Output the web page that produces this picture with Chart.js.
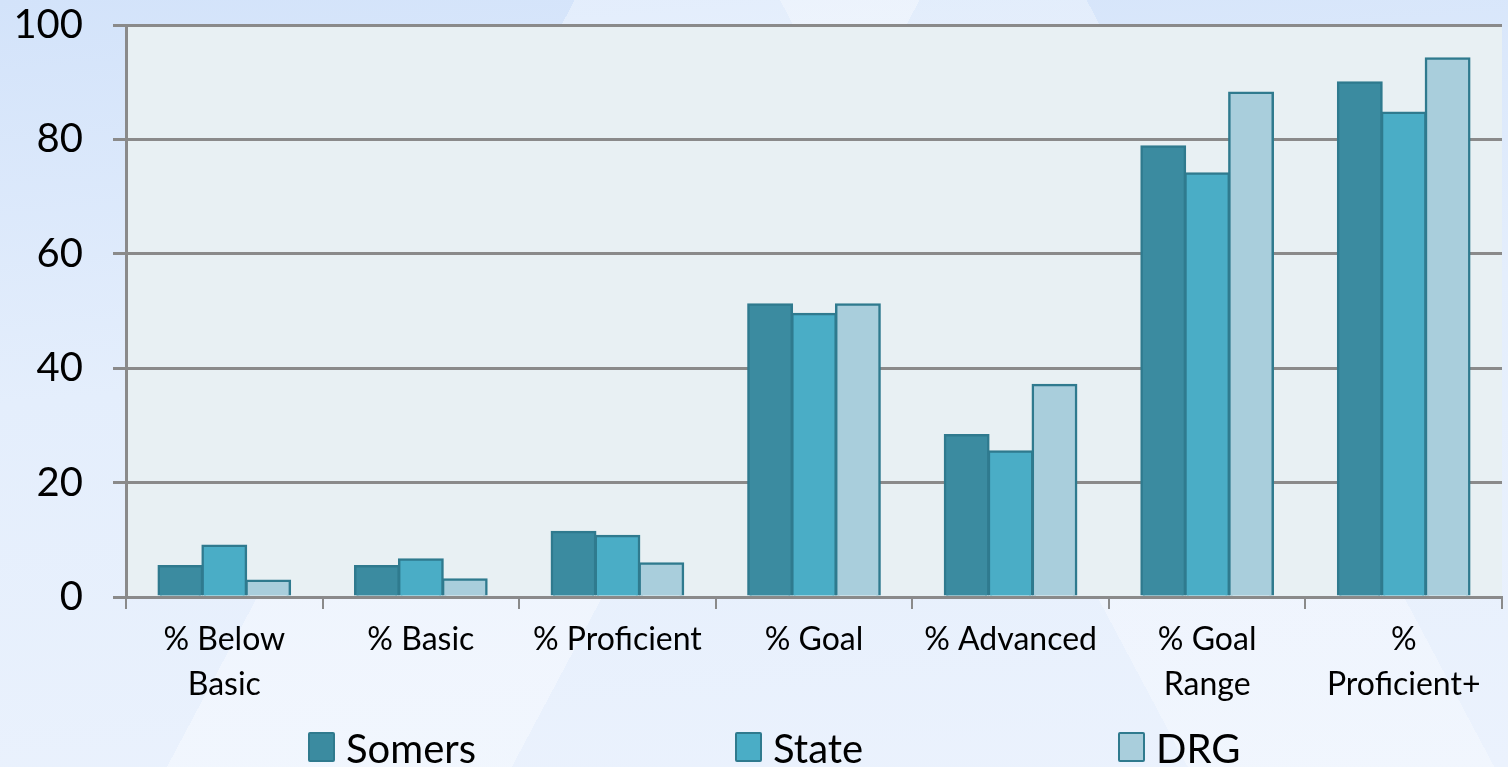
<!DOCTYPE html>
<html>
<head>
<meta charset="utf-8">
<script src="https://cdn.jsdelivr.net/npm/chart.js@4.4.0/dist/chart.umd.min.js"></script>
<style>
  html, body { margin: 0; padding: 0; }
  body {
    width: 1508px; height: 767px; overflow: hidden; position: relative;
    font-family: Lato, "Open Sans", sans-serif;
    background:
      linear-gradient(118deg, rgba(255,255,255,0) 0 30%, rgba(255,255,255,0.35) 30% 48%, rgba(255,255,255,0) 48%),
      linear-gradient(62deg, rgba(255,255,255,0) 0 62%, rgba(255,255,255,0.3) 62% 78%, rgba(255,255,255,0) 78%),
      linear-gradient(175deg, #d3e3fa 0%, #e4eefc 45%, #ebf2fd 100%);
  }
  #wrap { position: absolute; left: 0; top: 0; width: 1508px; height: 767px; }
  .legend-item { position: absolute; top: 728px; font-size: 40px; color: #000; line-height: 40px; white-space: nowrap; }
  .legend-item i { display: inline-block; width: 23px; height: 26px; border: 2px solid #2f7a8e; border-radius: 2px; vertical-align: top; margin: 4px 11px 0 0; }
</style>
</head>
<body>
<div id="wrap"><canvas id="scoreChart" width="1508" height="767"></canvas></div>
<div id="legend"></div>
<script>
let categories = [['% Below', 'Basic'], '% Basic', '% Proficient', '% Goal', '% Advanced', ['% Goal', 'Range'], ['%', 'Proficient+']];
let somersValues = [5.4, 5.4, 11.4, 51.2, 28.3, 78.8, 90.0];
let stateValues = [9.0, 6.6, 10.7, 49.5, 25.5, 74.1, 84.7];
let drgValues = [2.9, 3.1, 5.9, 51.2, 37.1, 88.2, 94.2];
let yTicks = [0, 20, 40, 60, 80, 100];

let seriesNames = ['Somers', 'State', 'DRG'];
let seriesColors = ['#3b8ba0', '#4aadc6', '#a9cedc'];
let edgeColor = '#2f7a8e';

// plot area background
const plotBg = {
    id: 'plotBg',
    beforeDraw(chart) {
        const a = chart.chartArea;
        const c = chart.ctx;
        c.save();
        c.fillStyle = '#e8f0f3';
        c.fillRect(a.left, a.top, a.right - a.left, a.bottom - a.top);
        c.restore();
    }
};

const ctx = document.getElementById('scoreChart').getContext('2d');
const scoreChart = new Chart(ctx, {
    type: 'bar',
    data: {
        labels: categories,
        datasets: [somersValues, stateValues, drgValues].map((vals, i) => ({
            label: seriesNames[i],
            data: vals,
            backgroundColor: seriesColors[i],
            borderColor: edgeColor,
            borderWidth: 2.5,
            inflateAmount: 1,
            barPercentage: 1,
            categoryPercentage: 0.67
        }))
    },
    options: {
        responsive: false,
        animation: false,
        layout: { padding: { top: 25, right: 6, left: 0, bottom: 0 } },
        plugins: {
            legend: { display: false },
            tooltip: { enabled: false }
        },
        scales: {
            x: {
                offset: true,
                grid: {
                    offset: true,
                    drawOnChartArea: false,
                    drawTicks: true,
                    tickLength: 12,
                    color: '#8a8a8a',
                    lineWidth: 2
                },
                border: { color: '#8a8a8a', width: 3 },
                ticks: {
                    color: '#000',
                    padding: 9,
                    maxRotation: 0,
                    autoSkip: false,
                    font: { family: 'Lato', size: 32, lineHeight: 1.38 }
                },
                afterFit(scale) { scale.height = 170; }
            },
            y: {
                min: 0,
                max: 100,
                afterBuildTicks(scale) { scale.ticks = yTicks.map(v => ({ value: v })); },
                grid: {
                    color: '#8a8a8a',
                    lineWidth: 3,
                    tickLength: 13
                },
                border: { color: '#8a8a8a', width: 3 },
                ticks: {
                    color: '#000',
                    padding: 30,
                    font: { family: 'Lato', size: 40 }
                },
                afterFit(scale) {
                    scale.width = 126;
                    scale.paddingTop = 0;
                    scale.paddingBottom = 0;
                }
            }
        }
    },
    plugins: [plotBg]
});

// legend below the axis labels
const legendLeft = [308, 735, 1118];
const legend = document.getElementById('legend');
seriesNames.forEach((name, i) => {
    const item = document.createElement('div');
    item.className = 'legend-item';
    item.style.left = legendLeft[i] + 'px';
    item.innerHTML = '<i style="background:' + seriesColors[i] + '"></i>' + name;
    legend.appendChild(item);
});
</script>
</body>
</html>
